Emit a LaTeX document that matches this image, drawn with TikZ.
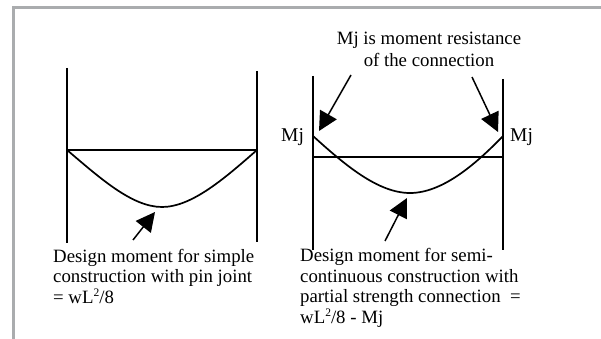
\documentclass[tikz,border=0pt]{standalone}
\usepackage{fontspec}
\setmainfont{Liberation Serif}
\usetikzlibrary{arrows.meta}
\definecolor{framegray}{RGB}{170,172,174}
\newcommand{\suptwo}{\raisebox{6.5pt}{\fontsize{11.5}{11.5}\selectfont 2}}
\tikzset{
  member/.style={line width=1.8pt,black},
  curvee/.style={line width=1.7pt,black},
  pointer/.style={line width=1.5pt,black,-{Triangle[length=19pt,width=19pt]},shorten >=0pt},
  lbl/.style={inner sep=0pt,font=\fontsize{18.8}{20.5}\selectfont,align=left,anchor=north west},
  mjlbl/.style={inner sep=0pt,font=\fontsize{19.5}{21}\selectfont,anchor=base west}
}
\begin{document}
\begin{tikzpicture}[x=1pt,y=-1pt]
\useasboundingbox (0,0) rectangle (601,339);
\fill[white] (0,0) rectangle (601,339);
\fill[framegray] (12,6) rectangle (601,9);
\fill[framegray] (12,6) rectangle (15,339);
% left diagram
\coordinate (la) at (67,68); \coordinate (lb) at (67,243);
\coordinate (lc) at (257,71); \coordinate (ld) at (257,242);
\coordinate (le) at (67,150); \coordinate (lf) at (257,150);
\coordinate (lm) at (162,207);
\coordinate (lp) at (133,240); \coordinate (lq) at (155,212);
\draw[member] (la) -- (lb);
\draw[member] (lc) -- (ld);
\draw[member] (le) -- (lf);
\draw[curvee] (le) .. controls (100,178) and (132,207) .. (lm) .. controls (192,207) and (225,178) .. (lf);
\draw[pointer] (lp) -- (lq);
\node[lbl] (ltext) at (53,249) {Design moment for simple\\construction with pin joint\\= wL\suptwo/8};
% right diagram
\coordinate (ra) at (313,76); \coordinate (rb) at (313,250);
\coordinate (rc) at (503,79); \coordinate (rd) at (503,250);
\coordinate (re) at (313,157); \coordinate (rf) at (503,157);
\coordinate (rg) at (313,136); \coordinate (rh) at (503,136);
\coordinate (rm) at (410,193);
\draw[member] (ra) -- (rb);
\draw[member] (rc) -- (rd);
\draw[member] (re) -- (rf);
\draw[curvee] (rg) .. controls (345,165) and (378,193) .. (rm) .. controls (442,193) and (475,165) .. (rh);
\coordinate (p1) at (351,75); \coordinate (q1) at (319,131);
\coordinate (p2) at (472,77); \coordinate (q2) at (498,132);
\coordinate (p3) at (385,241); \coordinate (q3) at (407,198);
\draw[pointer] (p1) -- (q1);
\draw[pointer] (p2) -- (q2);
\draw[pointer] (p3) -- (q3);
\node[inner sep=0pt,font=\fontsize{18.8}{22}\selectfont,align=center,anchor=north] (top) at (429,32) {Mj is moment resistance\\of the connection};
\node[mjlbl] (mjl) at (281,142) {Mj};
\node[mjlbl] (mjr) at (510,142) {Mj};
\node[lbl] (rtext) at (300,248.5) {Design moment for semi-\\continuous construction with\\partial strength connection\ \ =\\wL\suptwo/8 - Mj};
\end{tikzpicture}
\end{document}
